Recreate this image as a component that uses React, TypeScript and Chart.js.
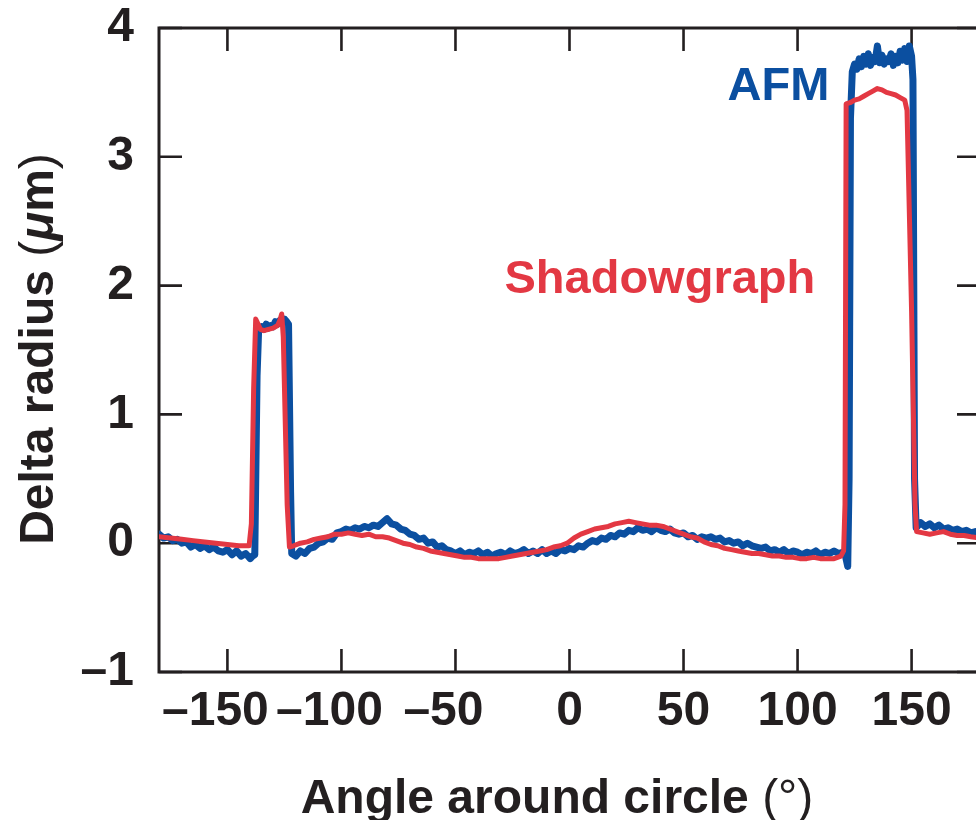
import React, { useEffect, useRef } from "react";
import { Chart, registerables } from "chart.js";

Chart.register(...registerables);

const FONT = "'Liberation Sans', Arial, Helvetica, sans-serif";
const BLUE = "#0b4fa0";
const RED = "#e33843";
const INK = "#231f20";

const X_MIN = -180;
const X_MAX = 180;
const Y_MIN = -1;
const Y_MAX = 4;
const xTicks = [-150, -100, -50, 0, 50, 100, 150];
const yTicks = [-1, 0, 1, 2, 3, 4];

const afmAngles = [
  -180, -178, -176, -174, -172, -170, -168, -166, -164, -162, -160, -158, -156, -154, -152, -150, -148, -146, -144, -142, -140,
  -139, -138, -137, -136.3, -135, -134, -133, -132, -131, -130, -129, -128, -127, -126, -125, -124, -123.2, -122.3, -121.8,
  -120, -118, -116, -114, -112, -110, -108, -106, -104, -102, -100, -98, -96, -94, -92, -90, -88, -86, -84, -82,
  -80, -78, -76, -74, -72, -70, -68, -66, -64, -62, -60, -58, -56, -54, -52, -50, -48, -46, -44, -42,
  -40, -38, -36, -34, -32, -30, -28, -26, -24, -22, -20, -18, -16, -14, -12, -10, -8, -6, -4, -2,
  0, 2, 4, 6, 8, 10, 12, 14, 16, 18, 20, 22, 24, 26, 28, 30, 32, 34, 36, 38,
  40, 42, 44, 46, 48, 50, 52, 54, 56, 58, 60, 62, 64, 66, 68, 70, 72, 74, 76, 78,
  80, 82, 84, 86, 88, 90, 92, 94, 96, 98, 100, 102, 104, 106, 108, 110, 112, 114, 116, 118, 120,
  121, 122, 122.6, 123.2, 124, 125, 126, 127, 128, 129, 130, 131, 132, 133, 134, 135, 136, 137, 138, 139,
  140, 141, 142, 143, 144, 145, 146, 147, 148, 149, 150, 150.6, 151.3,
  152, 154, 156, 158, 160, 162, 164, 166, 168, 170, 172, 174, 176, 178, 180,
];

const afmValues = [
  0.07, 0.04, 0.05, 0.02, 0.03, 0.0, 0.01, -0.03, -0.01, -0.04, -0.02, -0.05, -0.03, -0.06, -0.07, -0.05, -0.09, -0.06, -0.1, -0.08, -0.12,
  -0.1, -0.09, 1.3, 1.66, 1.68, 1.66, 1.7, 1.67, 1.69, 1.68, 1.72, 1.7, 1.73, 1.71, 1.74, 1.72, 1.7, 0.4, -0.08,
  -0.1, -0.06, -0.08, -0.04, -0.03, 0.0, 0.01, 0.04, 0.03, 0.08, 0.09, 0.11, 0.1, 0.12, 0.11, 0.13, 0.12, 0.14, 0.13, 0.16,
  0.19, 0.15, 0.14, 0.11, 0.1, 0.07, 0.06, 0.03, 0.04, 0.0, 0.01, -0.03, -0.02, -0.05, -0.06, -0.08, -0.06, -0.09, -0.07, -0.08,
  -0.06, -0.09, -0.07, -0.1, -0.08, -0.07, -0.09, -0.06, -0.08, -0.07, -0.05, -0.08, -0.06, -0.08, -0.05, -0.08, -0.06, -0.08, -0.05, -0.06,
  -0.04, -0.05, -0.02, -0.03, 0.0, 0.02, 0.01, 0.04, 0.03, 0.06, 0.05, 0.08, 0.07, 0.1, 0.09, 0.12, 0.1, 0.11, 0.09, 0.12,
  0.1, 0.09, 0.11, 0.08, 0.07, 0.08, 0.05, 0.06, 0.03, 0.05, 0.04, 0.05, 0.03, 0.04, 0.01, 0.02, 0.0, 0.01, -0.02, 0.0,
  -0.02, -0.03, -0.04, -0.03, -0.06, -0.05, -0.07, -0.05, -0.08, -0.06, -0.07, -0.09, -0.07, -0.08, -0.06, -0.09, -0.07, -0.08, -0.06, -0.08, -0.07,
  -0.1, -0.18, 0.5, 3.3, 3.66, 3.72, 3.68, 3.76, 3.7, 3.78, 3.72, 3.8, 3.71, 3.77, 3.74, 3.86, 3.73, 3.79, 3.72, 3.76,
  3.74, 3.8, 3.71, 3.78, 3.73, 3.82, 3.75, 3.84, 3.74, 3.86, 3.78, 3.6, 0.5,
  0.12, 0.16, 0.13, 0.15, 0.12, 0.14, 0.11, 0.12, 0.1, 0.11, 0.09, 0.1, 0.08, 0.09, 0.07,
];

const shadowAngles = [
  -180, -175, -170, -165, -160, -155, -150, -145, -140.5, -139.5, -138.5, -137.6, -136.5, -135.5, -134, -132, -130, -128, -127, -126.2,
  -125.5, -123.8, -122.8, -121, -118, -115, -112, -109, -106, -103, -100, -97, -94, -91, -88, -85, -82, -79, -76, -73,
  -70, -67, -64, -61, -58, -55, -52, -49, -46, -43, -40, -37, -34, -31, -28, -25, -22, -19, -16, -13,
  -10, -7, -4, -1, 2, 5, 8, 11, 14, 17, 20, 23, 26, 29, 32, 35, 38, 41, 44, 47,
  50, 53, 56, 59, 62, 65, 68, 71, 74, 77, 80, 83, 86, 89, 92, 95, 98, 101, 104, 107,
  110, 113, 116, 119, 120.2, 120.8, 121.3, 123, 125, 127, 129, 131, 133, 135, 137, 139, 141, 143, 145, 147,
  148, 150, 151.5, 152.2, 155, 158, 161, 164, 167, 170, 173, 176, 180,
];

const shadowValues = [
  0.05, 0.04, 0.03, 0.02, 0.01, 0.0, -0.01, -0.02, -0.02, 0.15, 1.2, 1.74, 1.7, 1.66, 1.65, 1.66, 1.67, 1.69, 1.73, 1.78,
  1.6, 0.3, -0.03, -0.02, 0.0, 0.01, 0.03, 0.04, 0.05, 0.07, 0.07, 0.08, 0.07, 0.06, 0.07, 0.05, 0.05, 0.04, 0.02, 0.0,
  -0.01, -0.03, -0.04, -0.06, -0.07, -0.08, -0.09, -0.1, -0.11, -0.11, -0.12, -0.12, -0.12, -0.12, -0.11, -0.1, -0.09, -0.08, -0.07, -0.06,
  -0.05, -0.03, -0.02, 0.0, 0.04, 0.07, 0.09, 0.11, 0.12, 0.13, 0.15, 0.16, 0.17, 0.16, 0.15, 0.14, 0.14, 0.13, 0.11, 0.09,
  0.07, 0.05, 0.04, 0.01, -0.01, -0.02, -0.04, -0.05, -0.06, -0.07, -0.08, -0.08, -0.09, -0.1, -0.1, -0.11, -0.11, -0.12, -0.12, -0.11,
  -0.12, -0.12, -0.12, -0.1, -0.06, 0.3, 3.41, 3.42, 3.44, 3.45, 3.47, 3.49, 3.51, 3.53, 3.52, 3.5, 3.49, 3.48, 3.46, 3.44,
  3.36, 1.8, 0.3, 0.09, 0.08, 0.07, 0.08, 0.09, 0.07, 0.06, 0.06, 0.05, 0.04,
];

const seriesNames = ["Shadowgraph", "AFM"];
// label anchor positions in data units (angle, delta radius)
const labelAnchors = [
  { text: "AFM", color: BLUE, x: 69.3, y: 3.44 },
  { text: "Shadowgraph", color: RED, x: -28.5, y: 1.94 },
];

const toPoints = (xs: number[], ys: number[]) => xs.map((x, i) => ({ x, y: ys[i] }));
const fmt = (v: number) => (v < 0 ? "\u2013" + Math.abs(v) : String(v));

function drawRuns(ctx: CanvasRenderingContext2D, runs: { t: string; f: string }[], cx: number, cy: number) {
  let total = 0;
  for (const r of runs) {
    ctx.font = r.f;
    total += ctx.measureText(r.t).width;
  }
  let x = cx - total / 2;
  ctx.textAlign = "left";
  ctx.textBaseline = "alphabetic";
  for (const r of runs) {
    ctx.font = r.f;
    ctx.fillText(r.t, x, cy);
    x += ctx.measureText(r.t).width;
  }
}

const framePlugin = {
  id: "frame",
  beforeDatasetsDraw(chart: any) {
    const { ctx, chartArea: a, scales } = chart;
    const tl = 23;
    ctx.save();
    ctx.strokeStyle = INK;
    ctx.lineWidth = 3;
    ctx.lineCap = "butt";
    ctx.beginPath();
    ctx.moveTo(a.left, a.top);
    ctx.lineTo(a.right, a.top);
    ctx.moveTo(a.left, a.bottom);
    ctx.lineTo(a.right, a.bottom);
    ctx.moveTo(a.left, a.top - 1.5);
    ctx.lineTo(a.left, a.bottom + 1.5);
    ctx.moveTo(a.right, a.top - 1.5);
    ctx.lineTo(a.right, a.bottom + 1.5);
    ctx.stroke();
    ctx.lineWidth = 2.6;
    ctx.beginPath();
    for (const v of xTicks) {
      const px = scales.x.getPixelForValue(v);
      ctx.moveTo(px, a.bottom);
      ctx.lineTo(px, a.bottom - tl);
      ctx.moveTo(px, a.top);
      ctx.lineTo(px, a.top + tl);
    }
    for (const v of yTicks) {
      const py = scales.y.getPixelForValue(v);
      ctx.moveTo(a.left, py);
      ctx.lineTo(a.left + tl, py);
      ctx.moveTo(a.right, py);
      ctx.lineTo(a.right - tl, py);
    }
    ctx.stroke();
    ctx.restore();
  },
  afterDraw(chart: any) {
    const { ctx, scales } = chart;
    ctx.save();
    ctx.fillStyle = INK;
    drawRuns(
      ctx,
      [
        { t: "Angle around circle ", f: `bold 48px ${FONT}` },
        { t: "(\u00b0)", f: `48px ${FONT}` },
      ],
      557,
      813
    );
    ctx.save();
    ctx.translate(53, 349);
    ctx.rotate(-Math.PI / 2);
    drawRuns(
      ctx,
      [
        { t: "Delta radius ", f: `bold 48px ${FONT}` },
        { t: "(", f: `48px ${FONT}` },
        { t: "\u03bc", f: `italic bold 48px ${FONT}` },
        { t: "m", f: `bold 48px ${FONT}` },
        { t: ")", f: `48px ${FONT}` },
      ],
      0,
      0
    );
    ctx.restore();
    ctx.textAlign = "left";
    ctx.textBaseline = "alphabetic";
    ctx.font = `bold 47px ${FONT}`;
    for (const l of labelAnchors) {
      ctx.fillStyle = l.color;
      ctx.fillText(l.text, scales.x.getPixelForValue(l.x), scales.y.getPixelForValue(l.y));
    }
    ctx.restore();
  },
};

export default function App() {
  const ref = useRef<HTMLCanvasElement | null>(null);
  useEffect(() => {
    if (!ref.current) return;
    const chart = new Chart(ref.current, {
      type: "scatter",
      data: {
        datasets: [
          {
            label: seriesNames[0],
            data: toPoints(shadowAngles, shadowValues),
            showLine: true,
            borderColor: RED,
            backgroundColor: RED,
            borderWidth: 5,
            pointRadius: 0,
            tension: 0,
            borderJoinStyle: "round",
            borderCapStyle: "round",
            order: 0,
          },
          {
            label: seriesNames[1],
            data: toPoints(afmAngles, afmValues),
            showLine: true,
            borderColor: BLUE,
            backgroundColor: BLUE,
            borderWidth: 7,
            pointRadius: 0,
            tension: 0,
            borderJoinStyle: "round",
            borderCapStyle: "round",
            order: 1,
          },
        ],
      },
      options: {
        responsive: false,
        animation: false,
        devicePixelRatio: 1,
        layout: { padding: { left: 0, right: 5, top: 28, bottom: 0 } },
        plugins: { legend: { display: false }, tooltip: { enabled: false }, title: { display: false } },
        scales: {
          x: {
            type: "linear",
            min: X_MIN,
            max: X_MAX,
            grid: { display: false, drawTicks: false },
            border: { display: false },
            afterBuildTicks: (s: any) => {
              s.ticks = xTicks.map((v) => ({ value: v }));
            },
            afterFit: (s: any) => {
              s.height = 148;
              s.paddingLeft = 0;
              s.paddingRight = 0;
              s.paddingTop = 0;
              s.paddingBottom = 0;
            },
            ticks: {
              autoSkip: false,
              maxRotation: 0,
              padding: 16,
              color: INK,
              font: { family: FONT, size: 48, weight: "bold", lineHeight: 1 },
              callback: (v: any) => (Number(v) < 0 ? fmt(Number(v)) + "\u2002" : fmt(Number(v))),
            },
          },
          y: {
            type: "linear",
            min: Y_MIN,
            max: Y_MAX,
            grid: { display: false, drawTicks: false },
            border: { display: false },
            afterBuildTicks: (s: any) => {
              s.ticks = yTicks.map((v) => ({ value: v }));
            },
            afterFit: (s: any) => {
              s.width = 159;
              s.paddingLeft = 0;
              s.paddingRight = 0;
              s.paddingTop = 0;
              s.paddingBottom = 0;
            },
            ticks: {
              autoSkip: false,
              padding: 25,
              color: INK,
              font: { family: FONT, size: 48, weight: "bold", lineHeight: 1 },
              callback: (v: any) => fmt(Number(v)),
            },
          },
        },
      },
      plugins: [framePlugin],
    } as any);
    return () => chart.destroy();
  }, []);
  return (
    <div style={{ position: "absolute", left: 0, top: 0, width: 976, height: 820, overflow: "hidden", background: "#fff" }}>
      <canvas ref={ref} width={985} height={820} style={{ width: 985, height: 820, display: "block" }} />
    </div>
  );
}
